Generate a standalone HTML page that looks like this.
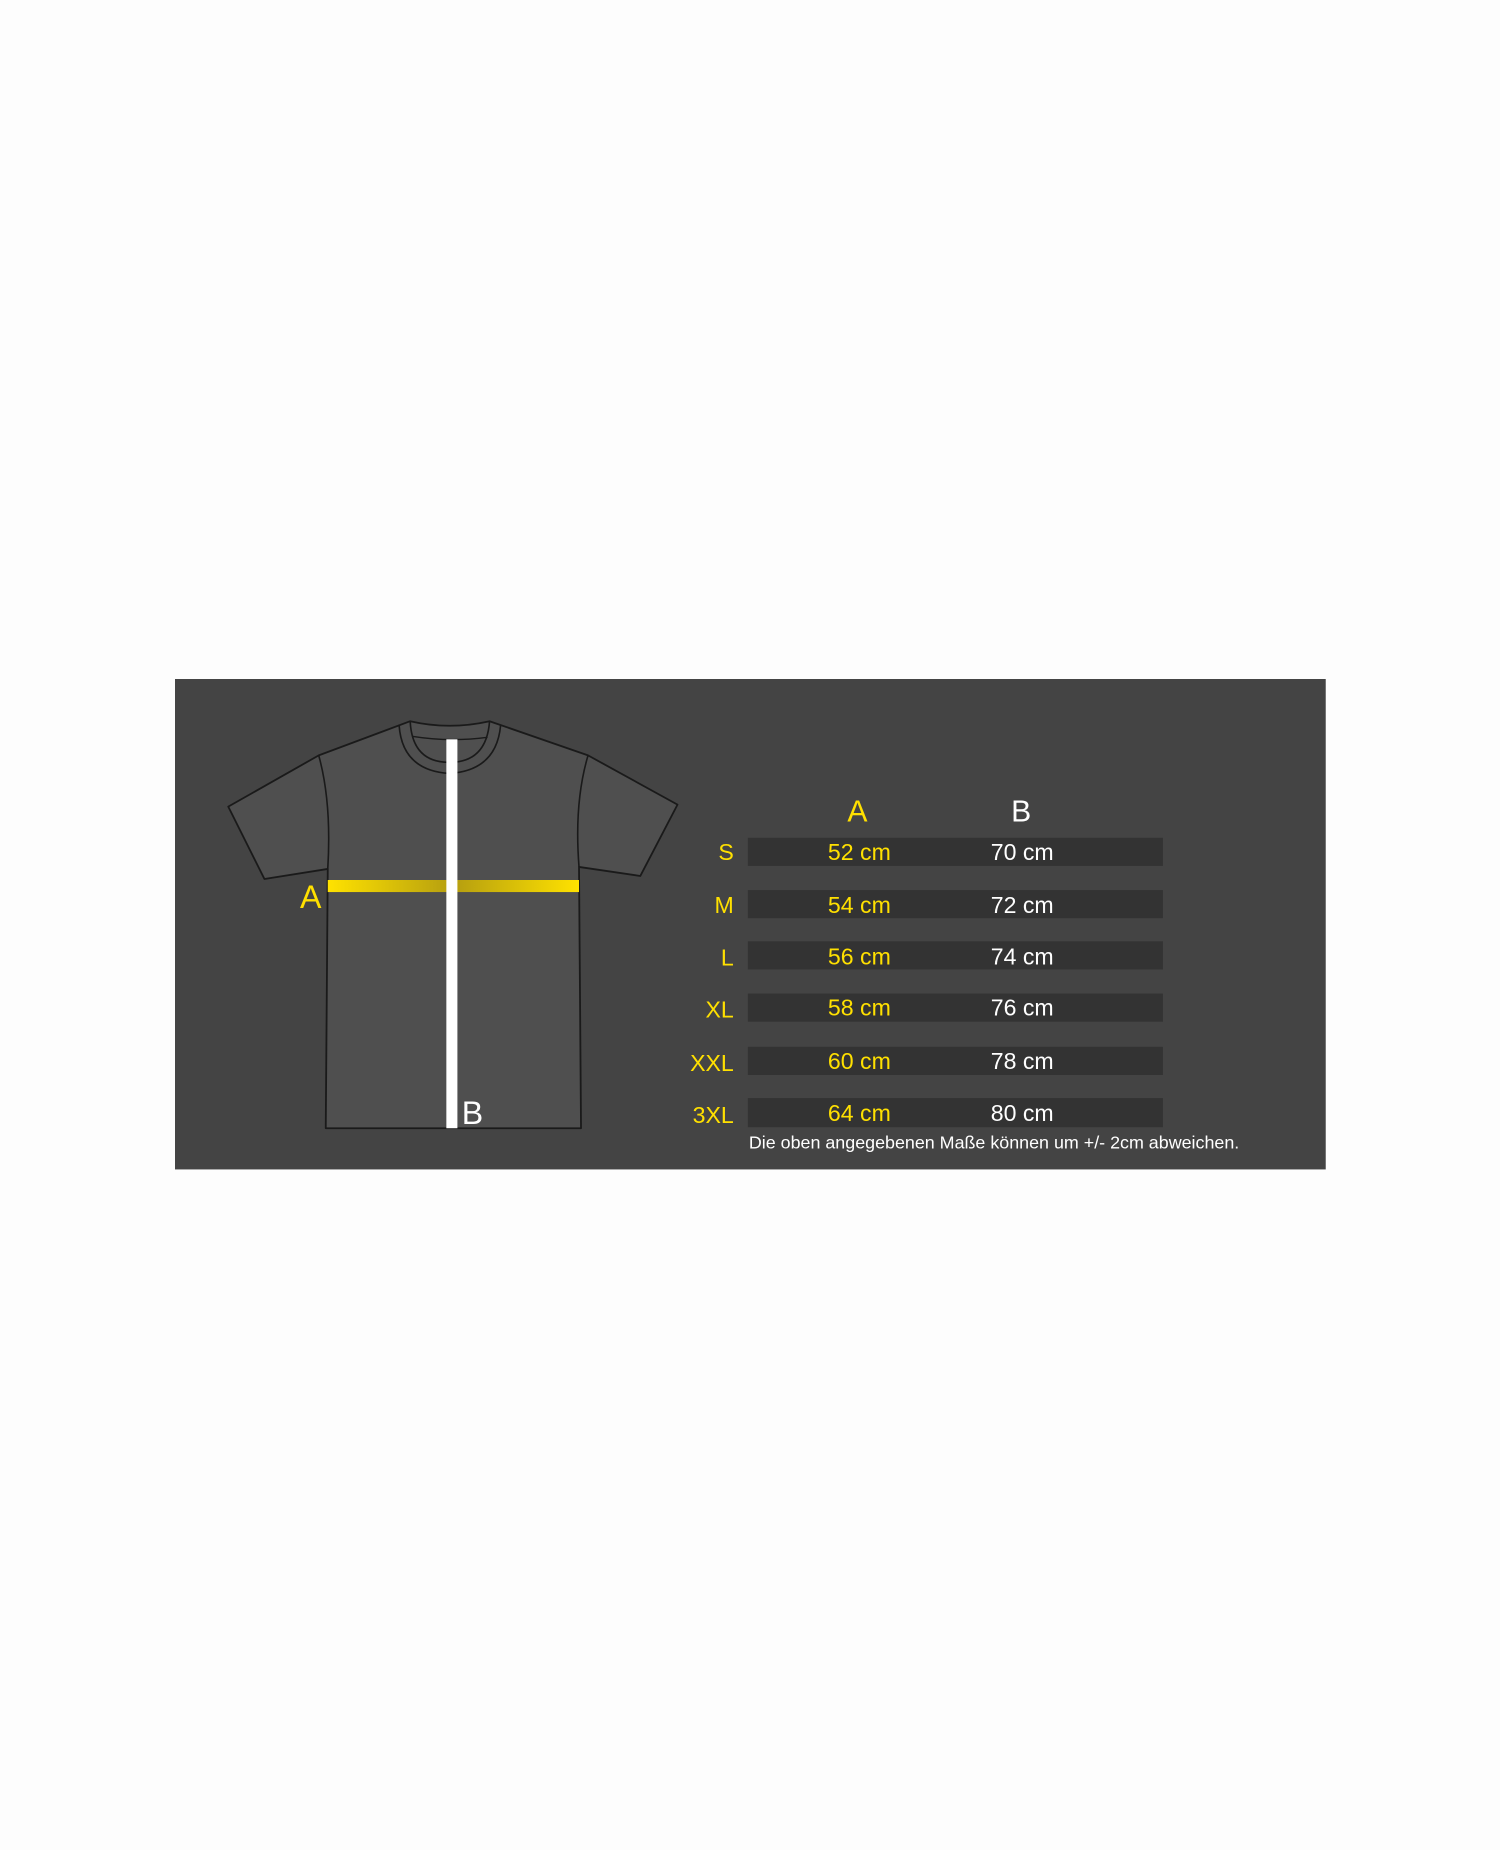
<!DOCTYPE html>
<html><head><meta charset="utf-8"><style>
html,body{margin:0;padding:0;background:#fdfdfd;}
body{width:1500px;height:1850px;position:relative;overflow:hidden;font-family:"Liberation Sans","DejaVu Sans",sans-serif;}
</style></head><body>
<svg width="1500" height="1850" style="position:absolute;left:0;top:0" xmlns="http://www.w3.org/2000/svg">
<defs>
<linearGradient id="yg" x1="0" x2="1" y1="0" y2="0">
<stop offset="0" stop-color="#ffe200"/><stop offset="0.5" stop-color="#b59e10"/><stop offset="1" stop-color="#ffe200"/>
</linearGradient>
</defs>
<g transform="translate(175,679) scale(1.005) translate(-174,-677)">
<rect x="174" y="677" width="1145" height="488" fill="#444444"/>
<path d="M408,719 Q447,728 487,719 L585,753 L674,802 L637,873 L576,864 L578,1124 L324,1124 L326,866 L263,876 L227,804 L317,753 Z" fill="#4f4f4f" stroke="#1a1a1a" stroke-width="1.8" stroke-linejoin="round"/>
<path d="M317,753 Q330,800 326,866" fill="none" stroke="#1a1a1a" stroke-width="1.6"/>
<path d="M585,753 Q571,800 576,864" fill="none" stroke="#1a1a1a" stroke-width="1.6"/>
<path d="M397,723 Q400,768 447,771 Q494,768 498,723" fill="none" stroke="#1a1a1a" stroke-width="1.6"/>
<path d="M408,719 Q410,760 447,760 Q484,760 487,719" fill="none" stroke="#1a1a1a" stroke-width="1.6"/>
<path d="M410,734 Q447,740 485,735" fill="none" stroke="#1a1a1a" stroke-width="1.4"/>
<rect x="326" y="877" width="250" height="12" fill="url(#yg)"/>
<rect x="444" y="737" width="11" height="387" fill="#ffffff"/>
<g font-family="Liberation Sans, sans-serif" font-size="32">
<text x="309" y="905" fill="#ffe000" text-anchor="middle">A</text>
<text x="470" y="1120" fill="#ffffff" text-anchor="middle">B</text>
<text x="853" y="819" fill="#ffe000" text-anchor="middle" font-size="30">A</text>
<text x="1016" y="819" fill="#ffffff" text-anchor="middle" font-size="30">B</text>
</g>
<g fill="#333333">
<rect x="744" y="835" width="413" height="28"/>
<rect x="744" y="887" width="413" height="28"/>
<rect x="744" y="938" width="413" height="28"/>
<rect x="744" y="990" width="413" height="28"/>
<rect x="744" y="1043" width="413" height="28"/>
<rect x="744" y="1094" width="413" height="29"/>
</g>
<g font-family="Liberation Sans, sans-serif" font-size="23">
<g fill="#ffe000" text-anchor="end">
<text x="730" y="857">S</text><text x="730" y="910">M</text><text x="730" y="962">L</text>
<text x="730" y="1014">XL</text><text x="730" y="1067">XXL</text><text x="730" y="1119">3XL</text>
</g>
<g fill="#ffe000" text-anchor="middle" font-size="23">
<text x="855" y="857">52 cm</text><text x="855" y="910">54 cm</text><text x="855" y="961">56 cm</text>
<text x="855" y="1012">58 cm</text><text x="855" y="1065">60 cm</text><text x="855" y="1117">64 cm</text>
</g>
<g fill="#ffffff" text-anchor="middle" font-size="23">
<text x="1017" y="857">70 cm</text><text x="1017" y="910">72 cm</text><text x="1017" y="961">74 cm</text>
<text x="1017" y="1012">76 cm</text><text x="1017" y="1065">78 cm</text><text x="1017" y="1117">80 cm</text>
</g>
<text x="745" y="1144" fill="#ffffff" font-size="17.8">Die oben angegebenen Maße können um +/- 2cm abweichen.</text>
</g>
</g>
</svg>
</body></html>
